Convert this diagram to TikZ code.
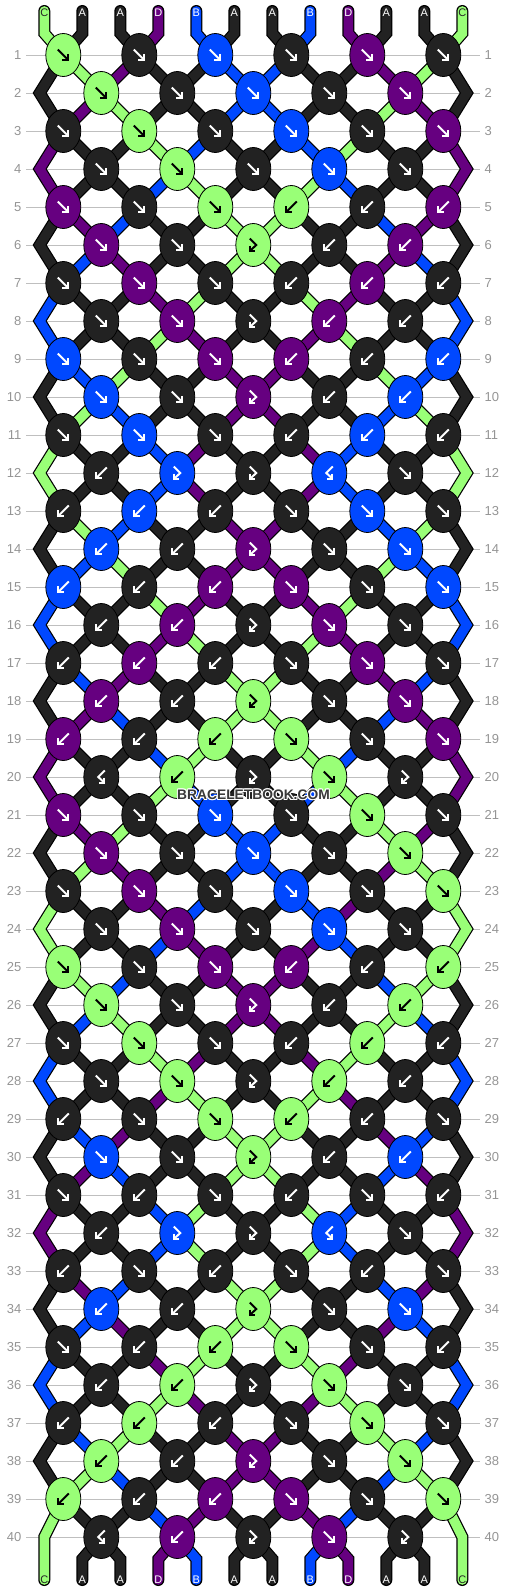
\documentclass[tikz,border=0pt]{standalone}
\usepackage{fontspec}
\setmainfont{Liberation Sans}
\usetikzlibrary{shapes.geometric}
\definecolor{cG}{RGB}{153,255,119}
\definecolor{cK}{RGB}{34,34,34}
\definecolor{cP}{RGB}{102,0,128}
\definecolor{cU}{RGB}{0,72,255}
\colorlet{aG}{black}\colorlet{aK}{white}\colorlet{aP}{white}\colorlet{aU}{white}
\colorlet{tG}{black!85}\colorlet{tK}{white}\colorlet{tP}{white}\colorlet{tU}{white}
\newcommand\defS[2]{\expandafter\def\csname S#1\endcsname{#2}}
\newcommand\defK[2]{\expandafter\def\csname K#1\endcsname{#2}}
\defS{0}{G,K,K,P,U,K,K,U,P,K,K,G}
\defS{1}{K,G,P,K,K,U,U,K,K,P,G,K}
\defS{2}{K,P,G,K,K,U,U,K,K,G,P,K}
\defS{3}{P,K,K,G,U,K,K,U,G,K,K,P}
\defS{4}{P,K,K,U,G,K,K,G,U,K,K,P}
\defS{5}{K,P,U,K,K,G,G,K,K,U,P,K}
\defS{6}{K,U,P,K,K,G,G,K,K,P,U,K}
\defS{7}{U,K,K,P,G,K,K,G,P,K,K,U}
\defS{8}{U,K,K,G,P,K,K,P,G,K,K,U}
\defS{9}{K,U,G,K,K,P,P,K,K,G,U,K}
\defS{10}{K,G,U,K,K,P,P,K,K,U,G,K}
\defS{11}{G,K,K,U,P,K,K,P,U,K,K,G}
\defS{12}{G,K,K,U,P,K,K,P,U,K,K,G}
\defS{13}{K,G,U,K,K,P,P,K,K,U,G,K}
\defS{14}{K,U,G,K,K,P,P,K,K,G,U,K}
\defS{15}{U,K,K,G,P,K,K,P,G,K,K,U}
\defS{16}{U,K,K,P,G,K,K,G,P,K,K,U}
\defS{17}{K,U,P,K,K,G,G,K,K,P,U,K}
\defS{18}{K,P,U,K,K,G,G,K,K,U,P,K}
\defS{19}{P,K,K,U,G,K,K,G,U,K,K,P}
\defS{20}{P,K,K,G,U,K,K,U,G,K,K,P}
\defS{21}{K,P,G,K,K,U,U,K,K,G,P,K}
\defS{22}{K,G,P,K,K,U,U,K,K,P,G,K}
\defS{23}{G,K,K,P,U,K,K,U,P,K,K,G}
\defS{24}{G,K,K,U,P,K,K,P,U,K,K,G}
\defS{25}{K,G,U,K,K,P,P,K,K,U,G,K}
\defS{26}{K,U,G,K,K,P,P,K,K,G,U,K}
\defS{27}{U,K,K,G,P,K,K,P,G,K,K,U}
\defS{28}{U,K,K,P,G,K,K,G,P,K,K,U}
\defS{29}{K,U,P,K,K,G,G,K,K,P,U,K}
\defS{30}{K,P,U,K,K,G,G,K,K,U,P,K}
\defS{31}{P,K,K,U,G,K,K,G,U,K,K,P}
\defS{32}{P,K,K,U,G,K,K,G,U,K,K,P}
\defS{33}{K,P,U,K,K,G,G,K,K,U,P,K}
\defS{34}{K,U,P,K,K,G,G,K,K,P,U,K}
\defS{35}{U,K,K,P,G,K,K,G,P,K,K,U}
\defS{36}{U,K,K,G,P,K,K,P,G,K,K,U}
\defS{37}{K,U,G,K,K,P,P,K,K,G,U,K}
\defS{38}{K,G,U,K,K,P,P,K,K,U,G,K}
\defS{39}{G,K,K,U,P,K,K,P,U,K,K,G}
\defS{40}{G,K,K,P,U,K,K,U,P,K,K,G}
\defK{1}{G/F,K/F,U/F,K/F,P/F,K/F}
\defK{2}{G/F,K/F,U/F,K/F,P/F}
\defK{3}{K/F,G/F,K/F,U/F,K/F,P/F}
\defK{4}{K/F,G/F,K/F,U/F,K/F}
\defK{5}{P/F,K/F,G/F,G/B,K/B,P/B}
\defK{6}{P/F,K/F,G/X,K/B,P/B}
\defK{7}{K/F,P/F,K/F,K/B,P/B,K/B}
\defK{8}{K/F,P/F,K/X,P/B,K/B}
\defK{9}{U/F,K/F,P/F,P/B,K/B,U/B}
\defK{10}{U/F,K/F,P/X,K/B,U/B}
\defK{11}{K/F,U/F,K/F,K/B,U/B,K/B}
\defK{12}{K/B,U/X,K/X,U/Y,K/F}
\defK{13}{K/B,U/B,K/B,K/F,U/F,K/F}
\defK{14}{U/B,K/B,P/X,K/F,U/F}
\defK{15}{U/B,K/B,P/B,P/F,K/F,U/F}
\defK{16}{K/B,P/B,K/X,P/F,K/F}
\defK{17}{K/B,P/B,K/B,K/F,P/F,K/F}
\defK{18}{P/B,K/B,G/X,K/F,P/F}
\defK{19}{P/B,K/B,G/B,G/F,K/F,P/F}
\defK{20}{K/Y,G/B,K/X,G/F,K/X}
\defK{21}{P/F,K/F,U/F,K/F,G/F,K/F}
\defK{22}{P/F,K/F,U/F,K/F,G/F}
\defK{23}{K/F,P/F,K/F,U/F,K/F,G/F}
\defK{24}{K/F,P/F,K/F,U/F,K/F}
\defK{25}{G/F,K/F,P/F,P/B,K/B,G/B}
\defK{26}{G/F,K/F,P/X,K/B,G/B}
\defK{27}{K/F,G/F,K/F,K/B,G/B,K/B}
\defK{28}{K/F,G/F,K/X,G/B,K/B}
\defK{29}{K/B,K/F,G/F,G/B,K/B,K/F}
\defK{30}{U/F,K/F,G/X,K/B,U/B}
\defK{31}{K/F,K/B,K/F,K/B,K/F,K/B}
\defK{32}{K/B,U/X,K/X,U/Y,K/F}
\defK{33}{K/B,K/F,K/B,K/F,K/B,K/F}
\defK{34}{U/B,K/B,G/X,K/F,U/F}
\defK{35}{K/F,K/B,G/B,G/F,K/F,K/B}
\defK{36}{K/B,G/B,K/X,G/F,K/F}
\defK{37}{K/B,G/B,K/B,K/F,G/F,K/F}
\defK{38}{G/B,K/B,P/X,K/F,G/F}
\defK{39}{G/B,K/B,P/B,P/F,K/F,G/F}
\defK{40}{K/Y,P/B,K/X,P/F,K/X}
\begin{document}
\begin{tikzpicture}[x=1pt,y=-1pt,
  knot/.style={ellipse, draw=black, line width=0.8pt, minimum width=35pt, minimum height=43pt, inner sep=0pt},
  thr/.style={draw=black, line width=1.2pt, double=#1, double distance=9.6pt, line join=miter},
  arw/.style={line width=2pt, line cap=butt, line join=miter},
  rowline/.style={draw=black!25, line width=0.8pt},
  rownum/.style={text=black!42, font=\fontsize{13}{13}\selectfont, inner sep=0pt},
  lab/.style={font=\fontsize{11}{11}\selectfont, inner sep=0pt},
  pics/arF/.style={code={\draw[arw] (-5.5,-5.5) -- (5,5); \draw[arw] (5,-1) -- (5,5) -- (-1,5);}},
  pics/arB/.style={code={\draw[arw] (5.5,-5.5) -- (-5,5); \draw[arw] (-5,-1) -- (-5,5) -- (1,5);}},
  pics/arX/.style={code={\draw[arw] (-3.5,-6.5) -- (3,0) -- (-3,5.5); \draw[arw] (-3,0.5) -- (-3,5.5) -- (2,5.5);}},
  pics/arY/.style={code={\draw[arw] (3.5,-6.5) -- (-3,0) -- (3,5.5); \draw[arw] (3,0.5) -- (3,5.5) -- (-2,5.5);}}
]
\useasboundingbox (0,0) rectangle (506,1592);
% row guide lines and numbers
\foreach \rr in {1,...,40} {
  \pgfmathsetmacro\yy{55+38*(\rr-1)}
  \coordinate (ll-\rr) at (26,\yy);
  \coordinate (lr-\rr) at (480,\yy);
  \draw[rowline] (ll-\rr) -- (lr-\rr);
  \node[rownum, anchor=east] (nl-\rr) at (21.5,\yy) {\rr};
  \node[rownum, anchor=west] (nr-\rr) at (484.5,\yy) {\rr};
}
% coordinates of thread positions
\foreach \rr in {1,...,40} {
  \pgfmathsetmacro\yy{55+38*(\rr-1)}
  \foreach \pos in {1,...,12} {
    \pgfmathsetmacro\xx{mod(\rr,2)==1 ? 63.3+76*floor((\pos-1)/2) : (\pos==1 ? (\rr==40 ? 44.3 : 39.7) : (\pos==12 ? (\rr==40 ? 462.3 : 466.7) : 101.3+76*floor((\pos-2)/2)))}
    \coordinate (p-\rr-\pos) at (\xx,\yy);
  }
}
\foreach \pos in {1,...,12} {
  \pgfmathsetmacro\xx{44.3+38*(\pos-1)}
  \coordinate (te-\pos) at (\xx,11);
  \coordinate (t-\pos) at (\xx,33.3);
  \coordinate (b-\pos) at (\xx,1559);
  \coordinate (be-\pos) at (\xx,1580);
}
\coordinate (p-41-1) at (be-1);
\coordinate (p-41-12) at (be-12);
% top threads
\foreach \cc [count=\pos] in {G,K,K,P,U,K,K,U,P,K,K,G} {
  \draw[thr=c\cc, line cap=round] (te-\pos) -- (t-\pos) -- (p-1-\pos);
}
% bottom threads (inner)
\foreach \cc [count=\pos] in {G,K,K,P,U,K,K,U,P,K,K,G} {
  \ifnum\pos>1 \ifnum\pos<12
    \draw[thr=c\cc, line cap=round] (p-40-\pos) -- (b-\pos) -- (be-\pos);
  \fi\fi
}
% thread segments between rows
\foreach \rr in {1,...,39} {
  \pgfmathtruncatemacro\nr{\rr+1}
  \pgfmathtruncatemacro\nnr{\rr+2}
  \expandafter\let\expandafter\st\csname S\rr\endcsname
  \foreach \cc [count=\pos] in \st {
    \ifnum\pos=1
      \ifodd\rr\relax \draw[thr=c\cc, line cap=round] (p-\rr-1) -- (p-\nr-1) -- (p-\nnr-1); \fi
    \else\ifnum\pos=12
      \ifodd\rr\relax \draw[thr=c\cc, line cap=round] (p-\rr-12) -- (p-\nr-12) -- (p-\nnr-12); \fi
    \else
      \draw[thr=c\cc] (p-\rr-\pos) -- (p-\nr-\pos);
    \fi\fi
  }
}
% knots
\foreach \rr in {1,...,40} {
  \pgfmathsetmacro\yy{55+38*(\rr-1)}
  \pgfmathsetmacro\xo{mod(\rr,2)==1 ? 63.3 : 101.3}
  \expandafter\let\expandafter\lst\csname K\rr\endcsname
  \foreach \kc/\ty [count=\jj from 0] in \lst {
    \node[knot, fill=c\kc] (k-\rr-\jj) at (\xo+76*\jj,\yy) {};
    \pic[color=a\kc] at (k-\rr-\jj) {ar\ty};
  }
}
% string labels
\foreach \cc/\lt [count=\pos] in {G/C,K/A,K/A,P/D,U/B,K/A,K/A,U/B,P/D,K/A,K/A,G/C} {
  \node[lab, text=t\cc] (lt-\pos) at ([yshift=-2pt]te-\pos) {\lt};
  \node[lab, text=t\cc] (lb-\pos) at (be-\pos) {\lt};
}
% watermark
\foreach \dx/\dy in {-1/0,1/0,0/-1,0/1,-0.8/-0.8,0.8/0.8,-0.8/0.8,0.8/-0.8} {
  \node[font=\bfseries\fontsize{13.8}{14}\selectfont, text=white, inner sep=0pt] at (253.5+\dx,795+\dy) {BRACELETBOOK.COM};
}
\node[font=\bfseries\fontsize{13.8}{14}\selectfont, text=black!78, inner sep=0pt] (wm) at (253.5,795) {BRACELETBOOK.COM};
\end{tikzpicture}
\end{document}
